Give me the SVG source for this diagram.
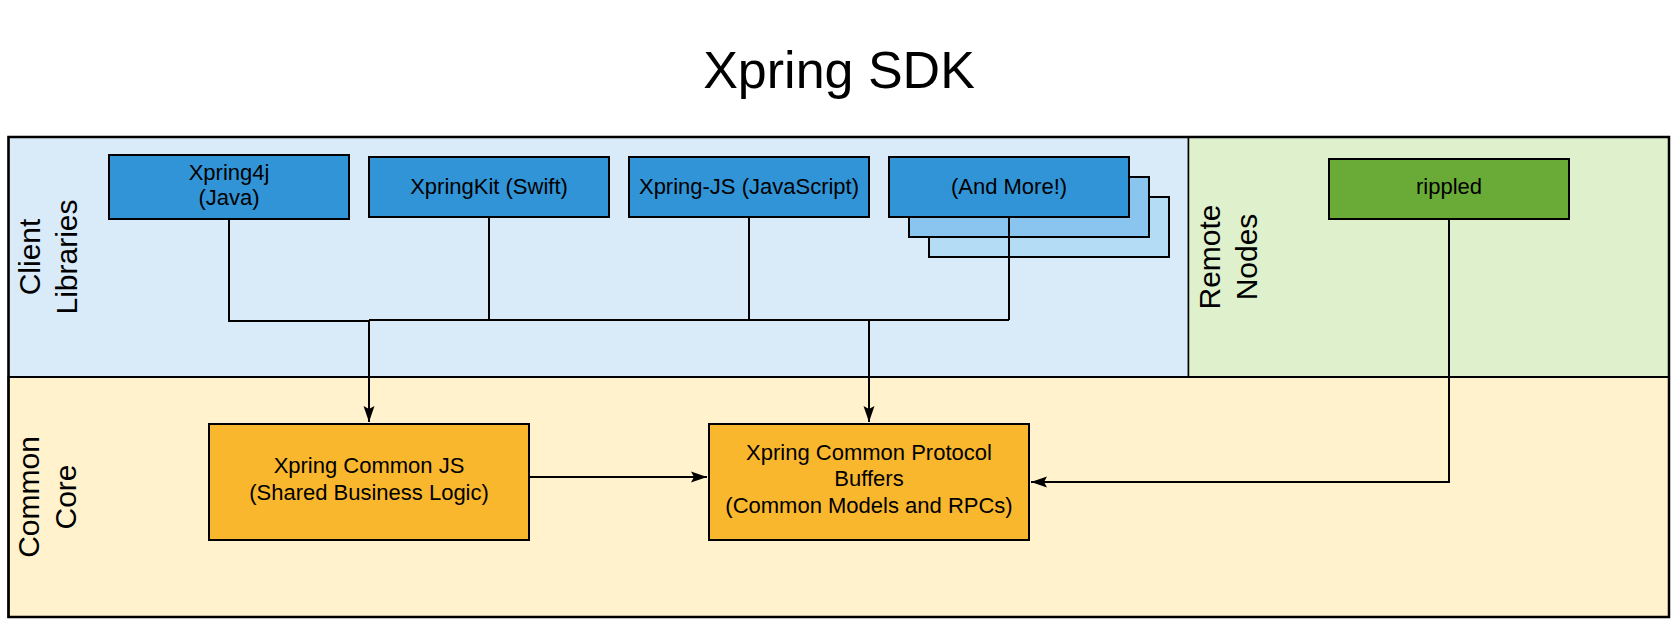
<svg xmlns="http://www.w3.org/2000/svg" width="1678" height="628" viewBox="0 0 1678 628">
<style>
text{font-family:"Liberation Sans",Arial,sans-serif;fill:#000}
.lbl{font-size:22px;text-anchor:middle}
.lane{font-size:30px;text-anchor:middle}
.box{stroke:#000;stroke-width:2}
.con{fill:none;stroke:#000;stroke-width:2}
</style>
<defs>
<marker id="arr" markerUnits="userSpaceOnUse" markerWidth="20" markerHeight="14" viewBox="-17 -7 19 14" refX="0" refY="0" orient="auto">
<path d="M0,0 L-16,-5.5 L-13,0 L-16,5.5 Z" fill="#000"/>
</marker>
</defs>
<rect width="1678" height="628" fill="#fff"/>
<text x="839" y="88" font-size="52" text-anchor="middle">Xpring SDK</text>
<g id="lane-client">
<rect x="8.5" y="137" width="1180" height="240" fill="#d9ebf9" stroke="#000" stroke-width="1.5"/>
<text class="lane" transform="translate(40,257) rotate(-90)">Client</text>
<text class="lane" transform="translate(77,257) rotate(-90)">Libraries</text>
</g>
<g id="lane-remote">
<rect x="1188.5" y="137" width="480.5" height="240" fill="#def1cc" stroke="#000" stroke-width="1.5"/>
<text class="lane" transform="translate(1220,257) rotate(-90)">Remote</text>
<text class="lane" transform="translate(1257,257) rotate(-90)">Nodes</text>
</g>
<g id="lane-common">
<rect x="8.5" y="377" width="1660.5" height="240" fill="#fff2cc" stroke="#000" stroke-width="2"/>
<text class="lane" transform="translate(39,497) rotate(-90)">Common</text>
<text class="lane" transform="translate(76,497) rotate(-90)">Core</text>
</g>
<rect x="8.5" y="137" width="1660.5" height="480" fill="none" stroke="#000" stroke-width="2.5"/>
<g id="xpring4j">
<rect class="box" x="109" y="155" width="240" height="64" fill="#3194d6"/>
<text class="lbl" x="229" y="180">Xpring4j</text>
<text class="lbl" x="229" y="205">(Java)</text>
</g>
<g id="xpringkit">
<rect class="box" x="369" y="157" width="240" height="60" fill="#3194d6"/>
<text class="lbl" x="489" y="194">XpringKit (Swift)</text>
</g>
<g id="xpringjs">
<rect class="box" x="629" y="157" width="240" height="60" fill="#3194d6"/>
<text class="lbl" x="749" y="194">Xpring-JS (JavaScript)</text>
</g>
<g id="andmore">
<rect class="box" x="929" y="197" width="240" height="60" fill="#b4dcf5"/>
<rect class="box" x="909" y="177" width="240" height="60" fill="#89c5ee"/>
<rect class="box" x="889" y="157" width="240" height="60" fill="#3194d6"/>
<text class="lbl" x="1009" y="194">(And More!)</text>
</g>
<g id="rippled">
<rect class="box" x="1329" y="159" width="240" height="60" fill="#6aab37"/>
<text class="lbl" x="1449" y="194">rippled</text>
</g>
<g id="connectors">
<path class="con" d="M229,219 V321 H369"/>
<path class="con" d="M369,320 H1009"/>
<path class="con" d="M489,217 V320"/>
<path class="con" d="M749,217 V320"/>
<path class="con" d="M1009,217 V320"/>
<path class="con" d="M369,320 V422" marker-end="url(#arr)"/>
<path class="con" d="M869,320 V422" marker-end="url(#arr)"/>
<path class="con" d="M529,477 H707" marker-end="url(#arr)"/>
<path class="con" d="M1449,219 V482 H1031" marker-end="url(#arr)"/>
</g>
<g id="commonjs">
<rect class="box" x="209" y="424" width="320" height="116" fill="#f9b72d"/>
<text class="lbl" x="369" y="473">Xpring Common JS</text>
<text class="lbl" x="369" y="500">(Shared Business Logic)</text>
</g>
<g id="protobuf">
<rect class="box" x="709" y="424" width="320" height="116" fill="#f9b72d"/>
<text class="lbl" x="869" y="460">Xpring Common Protocol</text>
<text class="lbl" x="869" y="486">Buffers</text>
<text class="lbl" x="869" y="513">(Common Models and RPCs)</text>
</g>
</svg>
